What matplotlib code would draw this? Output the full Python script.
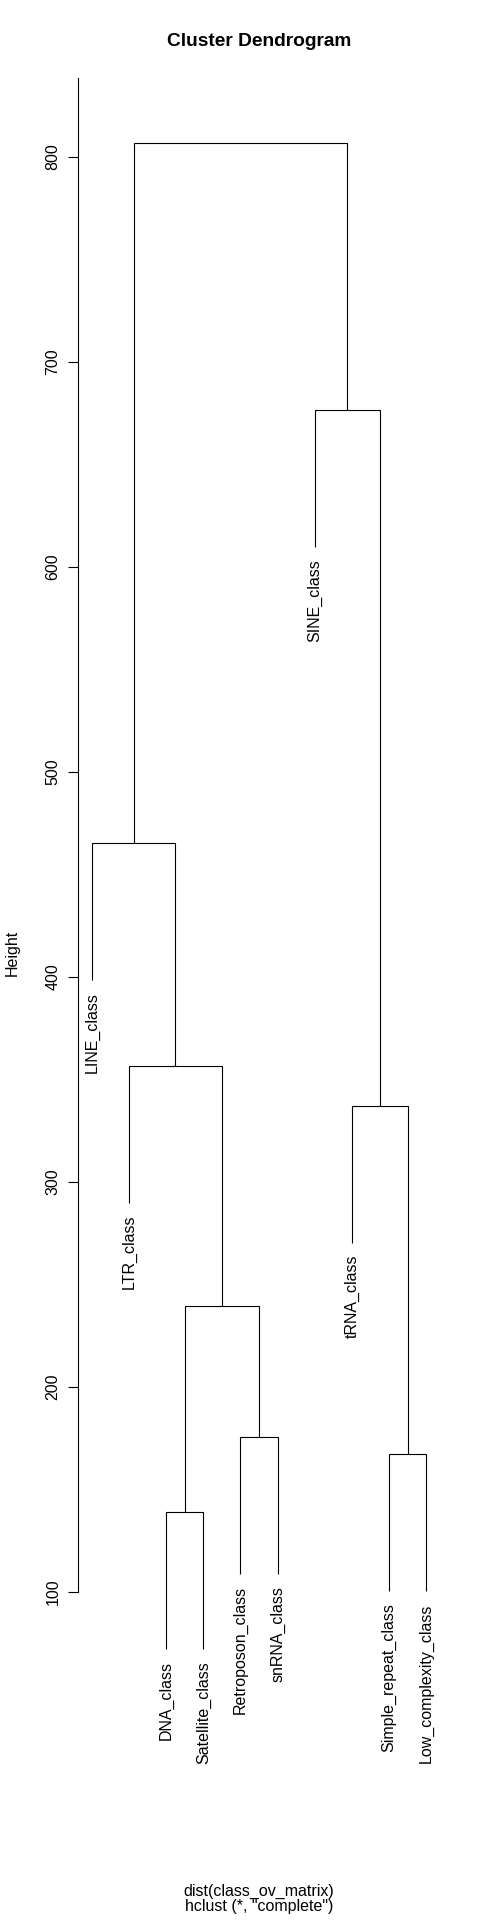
import matplotlib
matplotlib.use("Agg")
import matplotlib.pyplot as plt

plt.rcParams['font.family'] = ['Liberation Sans', 'DejaVu Sans']

# leaves in plotting order
labels = ["LINE_class", "LTR_class", "DNA_class", "Satellite_class",
          "Retroposon_class", "snRNA_class", "SINE_class", "tRNA_class",
          "Simple_repeat_class", "Low_complexity_class"]

# merge table like R's hclust: negative = leaf (1-based), positive = earlier merge
merge_left = [-3, -9, -5, 1, -8, -2, -1, -7, 7]
merge_right = [-4, -10, -6, 3, 2, 4, 6, 5, 8]
heights = [138.9, 167.1, 175.5, 239.6, 337.0, 356.5, 465.4, 676.5, 806.8]

yticks = [100, 200, 300, 400, 500, 600, 700, 800]

hang = 0.1 * (max(heights) - min(heights))

W, H = 480, 1920
fig = plt.figure(figsize=(W / 100, H / 100), dpi=100)
ax = fig.add_axes([78.4 / W, (H - 1847) / H, (439.5 - 78.4) / W, (1847 - 59) / H])

node_x = {}
for i, (l, r, h) in enumerate(zip(merge_left, merge_right, heights)):
    pts = []
    for c in (l, r):
        if c < 0:
            x = -c  # leaf position
            y = h - hang
            ax.annotate(labels[-c - 1], (x, y), xytext=(0, -8.5),
                        textcoords="offset points", rotation=90,
                        ha="center", va="top", fontsize=11.5)
        else:
            x = node_x[c]
            y = heights[c - 1]
        pts.append((x, y))
    (xl, yl), (xr, yr) = pts
    ax.plot([xl, xl, xr, xr], [yl, h, h, yr], color="black", lw=0.8,
            solid_capstyle="butt", solid_joinstyle="miter")
    node_x[i + 1] = (xl + xr) / 2

ax.set_xlim(0.64, 10.36)
ax.set_ylim(-24.4, 847.8)
ax.set_xticks([])
for s in ["top", "right", "bottom"]:
    ax.spines[s].set_visible(False)
ax.spines["left"].set_bounds(100, 838.5)
ax.spines["left"].set_linewidth(0.8)
ax.set_yticks(yticks)
ax.set_yticklabels([str(v) for v in yticks], rotation=90, va="center",
                   fontsize=11.5)
ax.tick_params(axis="y", length=7, width=0.8, pad=6)

fig.text(259 / W, 1 - 45.5 / H, "Cluster Dendrogram", ha="center",
         va="baseline", fontsize=13.8, fontweight="bold")
fig.text(12.5 / W, 1 - 953 / H, "Height", rotation=90, ha="center",
         va="center", fontsize=11.5)
fig.text(259 / W, 1 - 1896 / H, "dist(class_ov_matrix)", ha="center",
         va="baseline", fontsize=11.5)
fig.text(259 / W, 1 - 1911 / H, 'hclust (*, "complete")', ha="center",
         va="baseline", fontsize=11.5)

fig.savefig("out.png", dpi=100)
